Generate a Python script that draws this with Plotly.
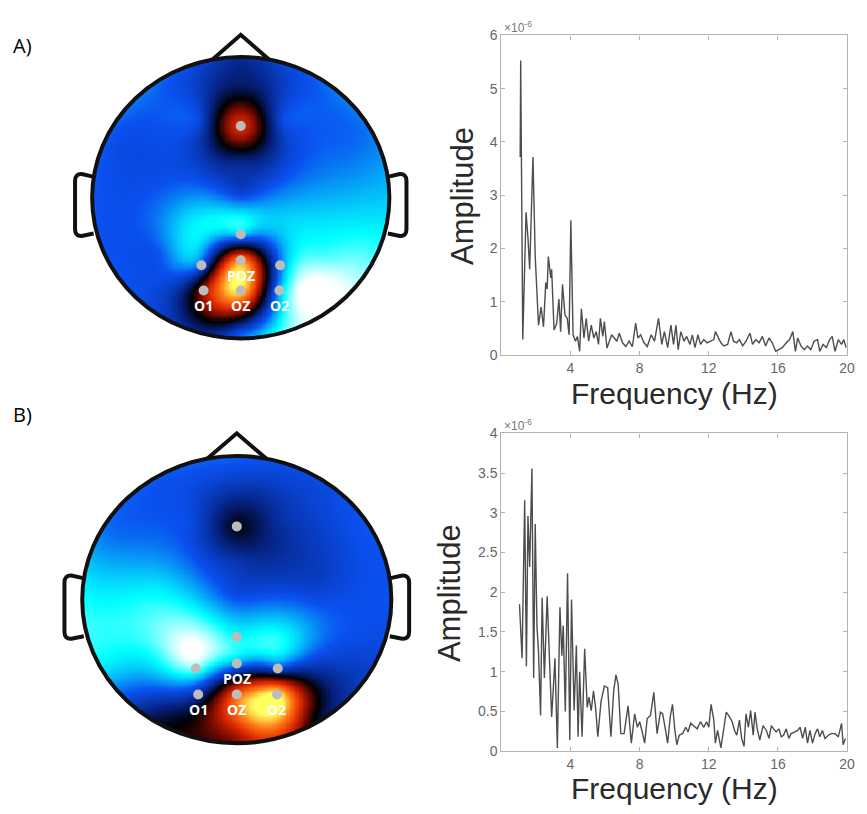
import numpy as np
import plotly.graph_objects as go

# ---------------- amplitude spectra (units of 1e-6) ----------------
freq_a = [1.09, 1.12, 1.24, 1.43, 1.54, 1.64, 1.83, 1.96, 2.15, 2.30,
          2.44, 2.57, 2.65, 2.72, 2.86, 2.91, 3.05, 3.20, 3.33, 3.43,
          3.54, 3.68, 3.81, 3.92, 4.02, 4.15, 4.29, 4.40, 4.53, 4.63,
          4.78, 4.91, 5.05, 5.20, 5.35, 5.49, 5.62, 5.73, 5.87, 5.96,
          6.11, 6.25, 6.38, 6.53, 6.68, 6.82, 7.01, 7.20, 7.39, 7.58,
          7.77, 7.90, 8.06, 8.25, 8.44, 8.67, 8.86, 9.09, 9.28, 9.43,
          9.62, 9.81, 9.96, 10.10, 10.23, 10.38, 10.57, 10.72, 10.91, 11.05,
          11.20, 11.37, 11.52, 11.71, 11.90, 12.10, 12.29, 12.38, 12.57, 12.70,
          12.86, 13.09, 13.28, 13.43, 13.62, 13.77, 13.96, 14.15, 14.38, 14.53,
          14.72, 14.91, 15.10, 15.29, 15.48, 15.67, 15.87, 16.06, 16.25, 16.48,
          16.67, 16.86, 17.01, 17.14, 17.33, 17.52, 17.71, 17.90, 18.09, 18.29,
          18.42, 18.61, 18.80, 18.99, 19.14, 19.30, 19.49, 19.68, 19.81, 19.94]
amp_a = [3.72, 5.53, 0.29, 2.68, 2.20, 1.61, 3.72, 1.85, 0.56, 0.90,
         0.53, 1.36, 1.24, 1.85, 1.45, 1.61, 0.47, 0.59, 1.05, 0.44,
         1.33, 0.75, 0.69, 0.38, 2.53, 0.38, 0.26, 0.35, 0.07, 0.87,
         0.32, 0.69, 0.26, 0.56, 0.32, 0.44, 0.20, 0.69, 0.35, 0.63,
         0.13, 0.26, 0.38, 0.32, 0.26, 0.41, 0.23, 0.16, 0.26, 0.16,
         0.60, 0.32, 0.38, 0.23, 0.16, 0.38, 0.26, 0.69, 0.20, 0.44,
         0.14, 0.56, 0.20, 0.56, 0.10, 0.44, 0.26, 0.35, 0.20, 0.38,
         0.14, 0.38, 0.20, 0.29, 0.23, 0.26, 0.29, 0.44, 0.32, 0.23,
         0.17, 0.20, 0.44, 0.26, 0.23, 0.29, 0.17, 0.26, 0.41, 0.20,
         0.29, 0.23, 0.35, 0.17, 0.32, 0.23, 0.07, 0.10, 0.14, 0.23,
         0.29, 0.44, 0.07, 0.32, 0.17, 0.10, 0.17, 0.10, 0.26, 0.29,
         0.07, 0.20, 0.14, 0.29, 0.35, 0.07, 0.29, 0.20, 0.29, 0.14]

freq_b = [1.05, 1.20, 1.35, 1.45, 1.54, 1.64, 1.77, 1.87, 1.96, 2.06,
          2.15, 2.27, 2.36, 2.49, 2.65, 2.78, 2.91, 3.01, 3.10, 3.24,
          3.39, 3.50, 3.58, 3.70, 3.83, 3.96, 4.06, 4.21, 4.34, 4.44,
          4.53, 4.67, 4.82, 4.97, 5.07, 5.20, 5.33, 5.45, 5.58, 5.77,
          5.96, 6.15, 6.34, 6.50, 6.63, 6.76, 6.91, 7.10, 7.33, 7.52,
          7.71, 7.87, 8.00, 8.13, 8.29, 8.44, 8.63, 8.82, 9.01, 9.20,
          9.33, 9.47, 9.62, 9.77, 9.90, 10.04, 10.15, 10.29, 10.48, 10.67,
          10.80, 10.95, 11.14, 11.33, 11.52, 11.71, 11.87, 12.00, 12.13, 12.29,
          12.38, 12.51, 12.70, 12.86, 13.01, 13.20, 13.35, 13.49, 13.62, 13.77,
          13.90, 14.04, 14.15, 14.29, 14.42, 14.57, 14.67, 14.80, 14.95, 15.14,
          15.33, 15.48, 15.62, 15.75, 15.90, 16.06, 16.19, 16.32, 16.48, 16.63,
          16.76, 16.95, 17.14, 17.28, 17.43, 17.58, 17.71, 17.85, 18.00, 18.15,
          18.29, 18.42, 18.57, 18.72, 18.91, 19.10, 19.30, 19.49, 19.68, 19.77,
          19.90]
amp_b = [1.85, 1.17, 3.16, 1.07, 2.96, 2.32, 3.56, 0.92, 2.86, 1.58,
         1.25, 0.45, 1.93, 0.92, 1.95, 1.17, 0.43, 0.80, 1.17, 0.04,
         1.81, 1.20, 1.58, 0.50, 2.24, 0.14, 1.91, 0.51, 1.33, 0.18,
         1.00, 0.18, 1.29, 0.55, 0.68, 0.51, 0.76, 0.55, 0.18, 0.63,
         0.82, 0.80, 0.18, 0.76, 0.96, 0.84, 0.22, 0.22, 0.57, 0.10,
         0.47, 0.30, 0.37, 0.26, 0.10, 0.41, 0.45, 0.74, 0.22, 0.49,
         0.47, 0.30, 0.10, 0.43, 0.59, 0.26, 0.08, 0.20, 0.22, 0.30,
         0.24, 0.35, 0.32, 0.28, 0.37, 0.30, 0.37, 0.30, 0.59, 0.39,
         0.10, 0.26, 0.04, 0.30, 0.49, 0.43, 0.37, 0.26, 0.20, 0.39,
         0.16, 0.06, 0.47, 0.30, 0.51, 0.20, 0.49, 0.28, 0.14, 0.32,
         0.26, 0.16, 0.32, 0.28, 0.24, 0.28, 0.18, 0.20, 0.28, 0.16,
         0.22, 0.24, 0.26, 0.30, 0.16, 0.30, 0.10, 0.26, 0.10, 0.22,
         0.28, 0.18, 0.26, 0.16, 0.20, 0.22, 0.22, 0.18, 0.35, 0.08,
         0.16]

x_ticks = [4, 8, 12, 16, 20]
y_ticks_a = [0, 1, 2, 3, 4, 5, 6]
y_ticks_b = [0, 0.5, 1, 1.5, 2, 2.5, 3, 3.5, 4]

# ---------------- scalp maps ----------------
# channel positions in head coordinates (x to the right, y toward the nose, radius 1);
# the first eight are the marked electrodes, the rest are the remaining scalp channels
sensor_x = [0.00, 0.00, -0.265, 0.00, 0.265, -0.25, 0.00, 0.26,
            0.00, 0.475, 0.823, 0.95, 0.823, 0.475, 0.00, -0.475, -0.823, -0.95,
            -0.823, -0.475,
            0.00, -0.50, 0.50, -0.40, 0.40, -0.55, 0.55,
            0.00, -0.28, 0.28, 0.00]
sensor_y = [0.51, -0.26, -0.48, -0.445, -0.48, -0.66, -0.66, -0.66,
            0.95, 0.823, 0.475, 0.00, -0.475, -0.823, -0.95, -0.823, -0.475, 0.00,
            0.475, 0.823,
            0.05, 0.10, 0.10, 0.50, 0.50, -0.40, -0.40,
            0.78, 0.55, 0.55, 0.25]
n_marked = 8
marked_labels = ["", "", "", "POZ", "", "O1", "OZ", "O2"]

# normalised map values per channel
topo_a = [0.45, -0.70, -0.50, 0.75, -0.55, 0.25, 0.95, -0.65,
          -0.25, -0.50, -0.55, -0.70, -0.90, -1.00, -0.45, -0.35, -0.50, -0.50,
          -0.50, -0.50,
          -0.40, -0.50, -0.60, -0.50, -0.50, -0.50, -0.85,
          -0.15, -0.45, -0.45, -0.25]
topo_b = [-0.05, -0.80, -0.90, -0.65, -0.45, -0.30, 0.60, 1.00,
          -0.50, -0.45, -0.50, -0.50, -0.40, 0.10, 0.30, -0.10, -0.75, -0.80,
          -0.55, -0.50,
          -0.45, -0.75, -0.40, -0.50, -0.35, -0.80, -0.45,
          -0.35, -0.45, -0.30, -0.35]

hot_cold = [
    [0.00, "#ffffff"],
    [0.10, "#00ffff"],
    [0.25, "#0a50f0"],
    [0.40, "#051e78"],
    [0.50, "#000000"],
    [0.60, "#780a00"],
    [0.72, "#dc2800"],
    [0.86, "#ff7814"],
    [1.00, "#ffff60"],
]

W, H = 867, 814


def green(r):
    # biharmonic spline kernel r^2 (ln r - 1)
    out = np.zeros_like(r)
    m = r > 0
    out[m] = r[m] ** 2 * (np.log(r[m]) - 1.0)
    return out


def topo_grid(values, n=241):
    sx = np.array(sensor_x)
    sy = np.array(sensor_y)
    v = np.array(values)
    dij = np.hypot(sx[:, None] - sx[None, :], sy[:, None] - sy[None, :])
    weights = np.linalg.solve(green(dij), v)
    g = np.linspace(-1.0, 1.0, n)
    gx, gy = np.meshgrid(g, g)
    d = np.hypot(gx[None] - sx[:, None, None], gy[None] - sy[:, None, None])
    z = np.tensordot(weights, green(d), axes=1)
    z = np.clip(z, -1.0, 1.0)
    z[gx ** 2 + gy ** 2 > 1.0] = np.nan
    return g, z


fig = go.Figure()

# head geometry in pixels: centre x, centre y, radius x, radius y
heads = {
    "3": dict(cx=243, cy=193.5, rx=150, ry=143.5, vals=topo_a),
    "4": dict(cx=239, cy=603.5, rx=156, ry=146.5, vals=topo_b),
}
XR = (-1.25, 1.25)
YR = (-1.2, 1.25)

shapes = []
annotations = []
for k, h in heads.items():
    g, z = topo_grid(h["vals"])
    fig.add_trace(go.Heatmap(x=g, y=g, z=z, colorscale=hot_cold, zmin=-1, zmax=1,
                             showscale=False, hoverinfo="skip",
                             xaxis="x" + k, yaxis="y" + k))
    fig.add_trace(go.Scatter(x=sensor_x[:n_marked], y=sensor_y[:n_marked], mode="markers",
                             marker=dict(size=10, color="#bcbcbc"), hoverinfo="skip",
                             showlegend=False, xaxis="x" + k, yaxis="y" + k))
    for sx, sy, lab in zip(sensor_x[:n_marked], sensor_y[:n_marked], marked_labels):
        if lab:
            annotations.append(dict(x=sx, y=sy, xref="x" + k, yref="y" + k, text=f"<b>{lab}</b>",
                                    showarrow=False, yshift=-15, xanchor="center", yanchor="middle",
                                    font=dict(family="Open Sans", size=14, color="white")))
    lw = 4
    ref = dict(xref="x" + k, yref="y" + k)
    # scalp outline
    shapes.append(dict(type="circle", x0=-1, y0=-1, x1=1, y1=1,
                       line=dict(color="#111111", width=lw), **ref))
    # nose
    shapes.append(dict(type="path", path="M -0.19,0.982 L 0,1.158 L 0.19,0.982",
                       line=dict(color="#111111", width=lw), **ref))
    # ears
    for s in (-1, 1):
        p = (f"M {s*0.995},0.15 L {s*1.07},0.168 Q {s*1.115},0.17 {s*1.115},0.12 "
             f"L {s*1.115},-0.225 Q {s*1.115},-0.275 {s*1.07},-0.272 L {s*0.99},-0.255")
        shapes.append(dict(type="path", path=p, line=dict(color="#111111", width=lw), **ref))

fig.add_trace(go.Scatter(x=freq_a, y=amp_a, mode="lines", line=dict(color="#4d4d4d", width=1.4),
                         hoverinfo="skip", showlegend=False, xaxis="x", yaxis="y"))
fig.add_trace(go.Scatter(x=freq_b, y=amp_b, mode="lines", line=dict(color="#4d4d4d", width=1.4),
                         hoverinfo="skip", showlegend=False, xaxis="x2", yaxis="y2"))


def px_dom(a, b, total):
    return [a / total, b / total]


def py_dom(top, bottom):
    return [1 - bottom / H, 1 - top / H]


axis_style = dict(showline=True, linecolor="#b3b3b3", linewidth=1.2, mirror="ticks",
                  ticks="inside", ticklen=4, tickcolor="#b3b3b3", showgrid=False,
                  zeroline=False, tickfont=dict(family="Liberation Sans", size=14, color="#666666"))

layout = dict(
    width=W, height=H, margin=dict(l=0, r=0, t=0, b=0),
    paper_bgcolor="white", plot_bgcolor="white", showlegend=False,
    xaxis=dict(domain=px_dom(506, 855, W), range=[0, 20], tickvals=x_ticks, anchor="y", **axis_style),
    yaxis=dict(domain=py_dom(28, 354), range=[0, 6], tickvals=y_ticks_a, anchor="x", **axis_style),
    xaxis2=dict(domain=px_dom(506, 855, W), range=[0, 20], tickvals=x_ticks, anchor="y2", **axis_style),
    yaxis2=dict(domain=py_dom(434, 758), range=[0, 4], tickvals=y_ticks_b,
                ticktext=[f"{t:g}" for t in y_ticks_b], anchor="x2", **axis_style),
)
for k, h in heads.items():
    x0 = h["cx"] + XR[0] * h["rx"]
    x1 = h["cx"] + XR[1] * h["rx"]
    top = h["cy"] - YR[1] * h["ry"]
    bottom = h["cy"] - YR[0] * h["ry"]
    layout["xaxis" + k] = dict(domain=px_dom(x0, x1, W), range=list(XR), visible=False,
                               anchor="y" + k, fixedrange=True)
    layout["yaxis" + k] = dict(domain=py_dom(top, bottom), range=list(YR), visible=False,
                               anchor="x" + k, fixedrange=True)

fig.update_layout(**layout)


def paper_note(text, x, y, **kw):
    d = dict(x=x / W, y=1 - y / H, xref="paper", yref="paper", text=text, showarrow=False,
             xanchor="center", yanchor="middle")
    d.update(kw)
    annotations.append(d)


amp_font = dict(family="Liberation Sans", size=31, color="#2a2a2a")
freq_font = dict(family="Liberation Sans", size=30, color="#2a2a2a")
paper_note("A)", 23, 38, font=dict(family="Open Sans", size=20, color="black"))
paper_note("B)", 23, 415, font=dict(family="Open Sans", size=20, color="black"))
paper_note("Amplitude", 467, 192, textangle=-90, font=amp_font)
paper_note("Amplitude", 453, 597, textangle=-90, font=amp_font)
paper_note("Frequency (Hz)", 681, 393, font=freq_font)
paper_note("Frequency (Hz)", 681, 796, font=freq_font)
exp_font = dict(family="Liberation Sans", size=12, color="#777777")
paper_note("\u00d710<sup>-6</sup>", 507, 19, xanchor="left", font=exp_font)
paper_note("\u00d710<sup>-6</sup>", 507, 425, xanchor="left", font=exp_font)

fig.update_layout(shapes=shapes, annotations=annotations)
fig.write_html("out.html")
